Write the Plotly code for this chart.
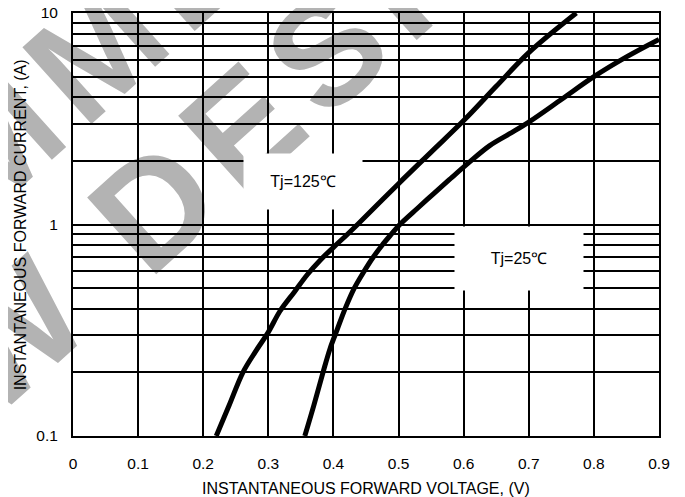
import plotly.graph_objects as go
import math

# ---- data ----
v_125 = [0.220, 0.240, 0.261, 0.280, 0.300, 0.318, 0.340, 0.360, 0.380, 0.400,
         0.420, 0.437, 0.500, 0.550, 0.600, 0.650, 0.700, 0.773]
i_125 = [0.10, 0.14, 0.20, 0.25, 0.31, 0.39, 0.48, 0.58, 0.68, 0.78,
         0.89, 1.00, 1.56, 2.20, 3.10, 4.50, 6.50, 10.0]

v_25 = [0.356, 0.370, 0.384, 0.395, 0.406, 0.418, 0.432, 0.447, 0.461, 0.475,
        0.489, 0.502, 0.530, 0.554, 0.580, 0.607, 0.640, 0.670, 0.700, 0.750,
        0.800, 0.850, 0.900]
i_25 = [0.10, 0.14, 0.20, 0.26, 0.32, 0.40, 0.50, 0.60, 0.70, 0.80,
        0.90, 1.00, 1.20, 1.40, 1.65, 1.95, 2.36, 2.68, 3.05, 3.90,
        5.00, 6.20, 7.50]

x_ticks = [0, 0.1, 0.2, 0.3, 0.4, 0.5, 0.6, 0.7, 0.8, 0.9]
x_labels = ["0", "0.1", "0.2", "0.3", "0.4", "0.5", "0.6", "0.7", "0.8", "0.9"]
y_ticks = [0.1, 0.2, 0.3, 0.4, 0.5, 0.6, 0.7, 0.8, 0.9,
           1, 2, 3, 4, 5, 6, 7, 8, 9, 10]
y_labels = ["0.1"] + [""] * 8 + ["1"] + [""] * 8 + ["10"]

label_125 = "Tj=125℃"
label_25 = "Tj=25℃"
x_title = "INSTANTANEOUS FORWARD VOLTAGE, (V)"
y_title = "INSTANTANEOUS FORWARD CURRENT, (A)"
watermark_rows = ["NOT RECOMMENDED FOR", "NEW DESIGN"]

FONT = "Liberation Sans, Arial, sans-serif"

OFF = 8                      # page offset of the figure (body margin)
W, H = 685 - OFF, 497 - OFF
ML, MT = 65, 5
PW, PH = 586, 423
MR, MB = W - ML - PW, H - MT - PH

fig = go.Figure()
line_style = dict(color="black", width=5, shape="spline", smoothing=1.0)
fig.add_trace(go.Scatter(x=v_125, y=i_125, mode="lines", line=line_style,
                         showlegend=False, hoverinfo="skip"))
fig.add_trace(go.Scatter(x=v_25, y=i_25, mode="lines", line=line_style,
                         showlegend=False, hoverinfo="skip"))

# ---- watermark (drawn below the grid) ----
adv_w = {"N": .722, "O": .778, "T": .611, " ": .278, "R": .722, "E": .667,
         "C": .722, "M": .833, "D": .722, "F": .611, "W": .944, "S": .667,
         "I": .278, "G": .778}
WM_FS, WM_TRACK, WM_ANG = 150, 14, 42
WM_DX, WM_DY = 10, -16       # compensation of the label anchor offset (page px)
ux, uy = math.cos(math.radians(WM_ANG)), -math.sin(math.radians(WM_ANG))
row_centers = [(64, 67), (168, 182)]   # page px
shapes = []
for text, (cx, cy) in zip(watermark_rows, row_centers):
    advs = [adv_w[c] * WM_FS + WM_TRACK for c in text]
    total = sum(advs) - WM_TRACK
    s = -total / 2
    for c, a in zip(text, advs):
        along = s + adv_w[c] * WM_FS / 2
        s += a
        if c == " ":
            continue
        pgx, pgy = cx + along * ux, cy + along * uy
        # letters whose glyph falls wholly outside the page are not drawn
        if pgx < -70 or pgx > 755 or pgy < -70 or pgy > 567:
            continue
        px = pgx + WM_DX - OFF
        py = pgy + WM_DY - OFF
        xp, yp = (px - ML) / PW, (MT + PH - py) / PH
        shapes.append(dict(type="rect", xref="paper", yref="paper",
                           x0=xp - 0.001, x1=xp + 0.001, y0=yp - 0.001, y1=yp + 0.001,
                           line=dict(width=0), fillcolor="rgba(0,0,0,0)", layer="below",
                           label=dict(text=c, textangle=-WM_ANG, textposition="middle center",
                                      font=dict(size=WM_FS, color="#b3b3b3", family=FONT,
                                                weight="bold"))))

annotations = [
    dict(x=0.3527, y=math.log10(1.598), xref="x", yref="y", text=label_125,
         showarrow=False, bgcolor="white", width=118, height=55, borderpad=0,
         font=dict(size=16, color="black", family=FONT)),
    dict(x=0.6844, y=math.log10(0.690), xref="x", yref="y", text=label_25,
         showarrow=False, bgcolor="white", width=128, height=63, borderpad=0,
         font=dict(size=16, color="black", family=FONT)),
    dict(x=0.5, y=-0.124, xref="paper", yref="paper", text=x_title, showarrow=False,
         xanchor="center", yanchor="middle", font=dict(size=16, color="black", family=FONT)),
    dict(x=-0.089, y=0.5, xref="paper", yref="paper", text=y_title, showarrow=False,
         textangle=-90, xanchor="center", yanchor="middle",
         font=dict(size=16, color="black", family=FONT)),
]

fig.update_layout(
    width=W, height=H,
    margin=dict(l=ML, r=MR, t=MT, b=MB, pad=0, autoexpand=False),
    paper_bgcolor="white", plot_bgcolor="rgba(0,0,0,0)",
    shapes=shapes, annotations=annotations,
    font=dict(family=FONT, size=15.5, color="black"),
)
fig.update_xaxes(range=[0, 0.9], tickvals=x_ticks, ticktext=x_labels, automargin=False,
                 showgrid=True, gridcolor="black", gridwidth=1.6,
                 showline=True, linecolor="black", linewidth=2, mirror=True,
                 ticks="", ticklabelstandoff=12, zeroline=False,
                 ticklabeloverflow="allow",
                 tickfont=dict(size=15.5, family=FONT, color="black"))
fig.update_yaxes(type="log", range=[-1, 1], tickvals=y_ticks, ticktext=y_labels,
                 automargin=False,
                 showgrid=True, gridcolor="black", gridwidth=1.6,
                 showline=True, linecolor="black", linewidth=2, mirror=True,
                 ticks="", ticklabelstandoff=10, zeroline=False,
                 ticklabeloverflow="allow",
                 tickfont=dict(size=15.5, family=FONT, color="black"))

fig.write_html("out.html")
